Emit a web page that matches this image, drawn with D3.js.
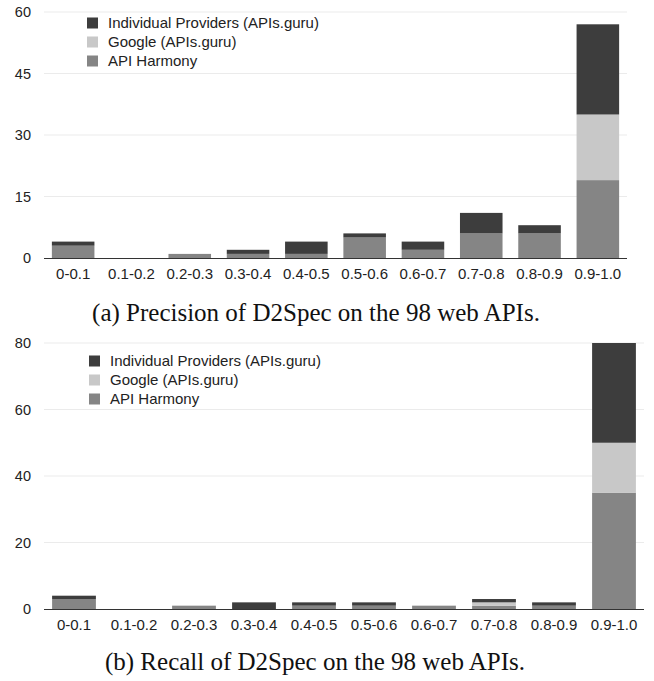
<!DOCTYPE html>
<html>
<head>
<meta charset="utf-8">
<script src="https://cdn.jsdelivr.net/npm/d3@7"></script>
<style>
  body { margin: 0; background: #fff; }
  svg { display: block; }
  .tick text { font-family: "Liberation Sans", Arial, sans-serif; }
</style>
</head>
<body>
<svg id="chart" width="654" height="681"></svg>
<script>
// categorias (faixas de valores)
const categories = ["0-0.1", "0.1-0.2", "0.2-0.3", "0.3-0.4", "0.4-0.5",
                    "0.5-0.6", "0.6-0.7", "0.7-0.8", "0.8-0.9", "0.9-1.0"];
const seriesNames = ["API Harmony", "Google (APIs.guru)", "Individual Providers (APIs.guru)"];

// precisão
const precisionHarmony    = [3, 0, 1, 1, 1, 5, 2, 6, 6, 19];
const precisionGoogle     = [0, 0, 0, 0, 0, 0, 0, 0, 0, 16];
const precisionIndividual = [1, 0, 0, 1, 3, 1, 2, 5, 2, 22];
const precisionTicks = [0, 15, 30, 45, 60];

// recall
const recallHarmony    = [3, 0, 1, 0, 1, 1, 1, 1, 1, 35];
const recallGoogle     = [0, 0, 0, 0, 0, 0, 0, 1, 0, 15];
const recallIndividual = [1, 0, 0, 2, 1, 1, 0, 1, 1, 30];
const recallTicks = [0, 20, 40, 60, 80];

const captions = ["(a) Precision of D2Spec on the 98 web APIs.",
                  "(b) Recall of D2Spec on the 98 web APIs."];

const colors = {
    "API Harmony": "#858585",
    "Google (APIs.guru)": "#c8c8c8",
    "Individual Providers (APIs.guru)": "#3d3d3d"
};

const svg = d3.select("#chart");

function drawChart(opts) {
    const rows = categories.map((c, i) => ({
        cat: c,
        "API Harmony": opts.harmony[i],
        "Google (APIs.guru)": opts.google[i],
        "Individual Providers (APIs.guru)": opts.individual[i]
    }));
    const stacked = d3.stack().keys(seriesNames)(rows);

    const x = d3.scaleBand().domain(categories)
        .range([opts.left, opts.right]).paddingInner(0.27).paddingOuter(0.135);
    const y = d3.scaleLinear().domain([0, d3.max(opts.ticks)])
        .range([opts.bottom, opts.top]);

    const g = svg.append("g");

    // linhas de grade
    g.append("g").selectAll("line")
        .data(opts.ticks.filter(t => t > 0))
        .join("line")
        .attr("x1", opts.left).attr("x2", opts.right)
        .attr("y1", d => y(d)).attr("y2", d => y(d))
        .attr("stroke", "#ebebeb").attr("stroke-width", 1);

    // eixo y
    const yAxis = g.append("g")
        .attr("transform", `translate(${opts.left},0)`)
        .call(d3.axisLeft(y).tickValues(opts.ticks).tickSize(0).tickPadding(13));
    yAxis.select(".domain").remove();
    yAxis.selectAll("text").attr("font-size", 14.5).attr("fill", "#222");

    // barras empilhadas
    g.append("g").selectAll("g")
        .data(stacked)
        .join("g")
        .attr("fill", d => colors[d.key])
        .selectAll("rect")
        .data(d => d)
        .join("rect")
        .attr("x", d => x(d.data.cat))
        .attr("width", x.bandwidth())
        .attr("y", d => y(d[1]))
        .attr("height", d => y(d[0]) - y(d[1]));

    // eixo x
    const xAxis = g.append("g")
        .attr("transform", `translate(0,${opts.bottom})`)
        .call(d3.axisBottom(x).tickSize(0).tickPadding(10));
    xAxis.select(".domain").attr("stroke", "#333").attr("stroke-width", 1.2)
        .attr("d", `M${opts.left},0.5H${opts.right}`);
    xAxis.selectAll("text").attr("font-size", 15).attr("fill", "#222");

    // legenda
    const legend = g.append("g")
        .attr("transform", `translate(${opts.legendX},${opts.legendY})`);
    const legendItems = seriesNames.slice().reverse();
    legendItems.forEach((name, i) => {
        const item = legend.append("g").attr("transform", `translate(0,${i * 19})`);
        item.append("rect").attr("x", 0).attr("y", -5.5)
            .attr("width", 11).attr("height", 11).attr("fill", colors[name]);
        item.append("text").attr("x", 21).attr("y", 0).attr("dy", "0.35em")
            .attr("font-family", "Liberation Sans, Arial, sans-serif")
            .attr("font-size", 15).attr("fill", "#222").text(name);
    });

    // legenda da figura
    svg.append("text")
        .attr("x", opts.captionX).attr("y", opts.captionY)
        .attr("text-anchor", "middle")
        .attr("font-family", "Liberation Serif, Times New Roman, serif")
        .attr("font-size", 25).attr("fill", "#111")
        .text(opts.caption);
}

drawChart({
    harmony: precisionHarmony, google: precisionGoogle, individual: precisionIndividual,
    ticks: precisionTicks, left: 44, right: 627, top: 12, bottom: 258,
    legendX: 87, legendY: 23, caption: captions[0], captionX: 316, captionY: 321
});

drawChart({
    harmony: recallHarmony, google: recallGoogle, individual: recallIndividual,
    ticks: recallTicks, left: 44, right: 644, top: 343, bottom: 609,
    legendX: 89, legendY: 361, caption: captions[1], captionX: 315, captionY: 670
});
</script>
</body>
</html>
